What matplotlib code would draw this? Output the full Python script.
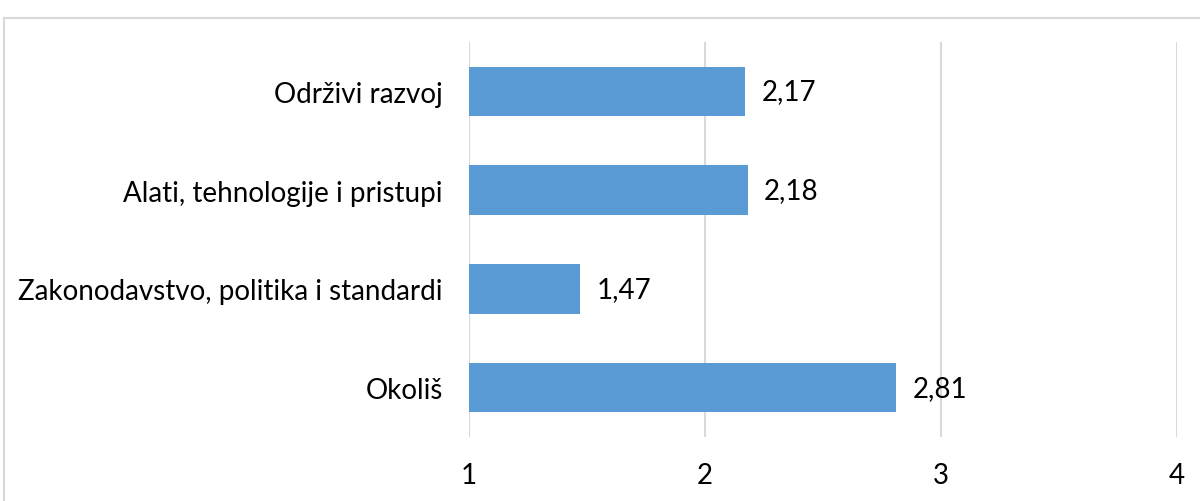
import matplotlib.pyplot as plt
from matplotlib.patches import Rectangle

categories = ['Okoliš', 'Zakonodavstvo, politika i standardi',
              'Alati, tehnologije i pristupi', 'Održivi razvoj']
values = [2.81, 1.47, 2.18, 2.17]
xticks = [1, 2, 3, 4]

plt.rcParams['font.family'] = ['Lato', 'DejaVu Sans']

fig = plt.figure(figsize=(12, 5.02), dpi=100)
ax = fig.add_axes([0.391, 0.1275, 0.59, 0.787])

bar_color = '#5B9BD5'
grid_color = '#D9D9D9'

ypos = range(len(categories))
widths = [v - 1 for v in values]
ax.barh(ypos, widths, left=1, height=0.5, color=bar_color, zorder=3)

for y, v in zip(ypos, values):
    ax.text(v + 0.07, y, f'{v:.2f}'.replace('.', ','), va='center', ha='left',
            fontsize=20, color='black')

ax.set_xlim(1, 4)
ax.set_ylim(-0.5, 3.5)
ax.set_xticks(xticks)
ax.set_xticklabels([str(t) for t in xticks], fontsize=20)
ax.set_yticks(list(ypos))
ax.set_yticklabels(categories, fontsize=20)
ax.tick_params(axis='both', length=0, colors='black')
ax.tick_params(axis='x', pad=18)
ax.tick_params(axis='y', pad=19)

ax.grid(axis='x', color=grid_color, linewidth=1.5, zorder=0)
for s in ax.spines.values():
    s.set_visible(False)

# light frame around the chart area
fig.patches.append(Rectangle((4 / 1200, -0.01), 1.1, 1 - 14 / 502,
                             transform=fig.transFigure, fill=False,
                             edgecolor=grid_color, linewidth=1.5))

fig.savefig('out.png', dpi=100)
